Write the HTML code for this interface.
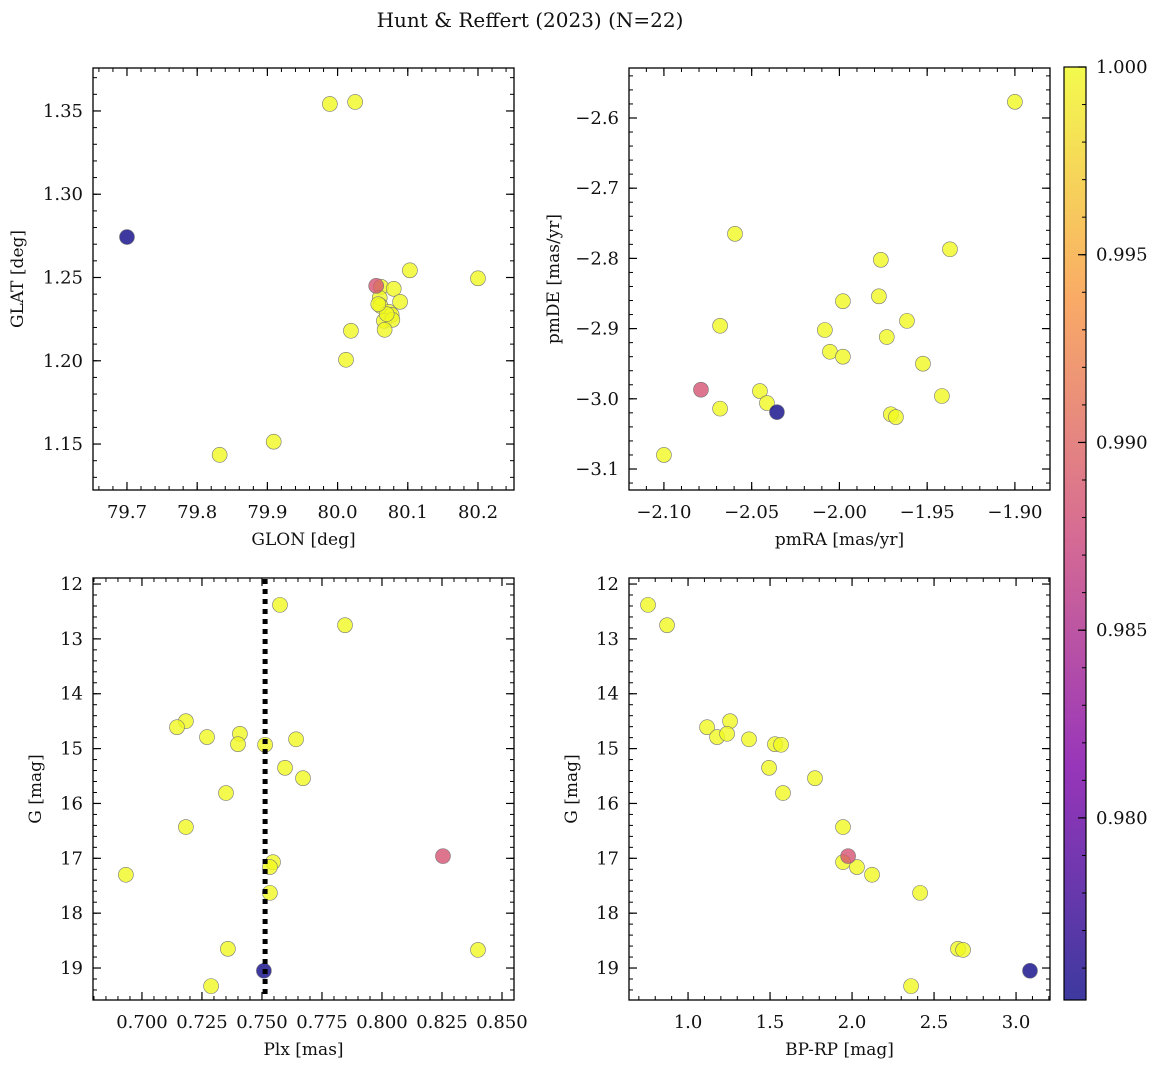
<!DOCTYPE html>
<html><head><meta charset="utf-8"><style>
html,body{margin:0;padding:0;background:#fff;}
svg text{font-family:"DejaVu Serif","Liberation Serif",serif;fill:#111;}
</style></head><body>
<svg id="fig" width="1161" height="1067" xmlns="http://www.w3.org/2000/svg">
<defs><linearGradient id="plasma" x1="0" y1="1" x2="0" y2="0">
<stop offset="0" stop-color="#0d0887"/><stop offset="0.25" stop-color="#7e03a8"/><stop offset="0.5" stop-color="#cc4778"/><stop offset="0.75" stop-color="#f89540"/><stop offset="1" stop-color="#f0f921"/></linearGradient></defs>
<text x="530" y="27" text-anchor="middle" font-size="20">Hunt &amp; Reffert (2023) (N=22)</text>
</svg>
<script>
// ---- data ----
const glon=[79.70,79.989,80.025,80.103,80.20,80.055,80.062,80.080,80.060,80.089,80.061,80.073,80.077,80.066,80.078,80.067,80.019,80.012,79.909,79.832,80.070,80.058];
const glat=[1.2743,1.3542,1.3554,1.2543,1.2495,1.2450,1.2444,1.2432,1.2378,1.2354,1.2330,1.2294,1.2276,1.2240,1.2246,1.2186,1.2180,1.2006,1.1514,1.1435,1.2280,1.2340];
const probTL=[0.9752,1,1,1,1,0.9885,1,1,1,1,1,1,1,1,1,1,1,1,1,1,1,1];
const pmra=[-1.900,-2.0595,-1.937,-1.9764,-1.9775,-1.998,-1.9615,-2.068,-2.0083,-1.973,-2.0054,-1.998,-1.9524,-1.9416,-2.0789,-2.0453,-2.0413,-2.068,-2.0356,-1.9707,-1.9678,-2.100];
const pmde=[-2.577,-2.765,-2.787,-2.802,-2.854,-2.861,-2.889,-2.896,-2.902,-2.912,-2.933,-2.940,-2.950,-2.996,-2.987,-2.989,-3.006,-3.014,-3.019,-3.022,-3.026,-3.080];
const probTR=[1,1,1,1,1,1,1,1,1,1,1,1,1,1,0.9885,1,1,1,0.9752,1,1,1];
const plx=[0.7575,0.7846,0.7183,0.7146,0.7271,0.7408,0.7400,0.7642,0.7513,0.7596,0.7671,0.7350,0.7183,0.8254,0.7546,0.7533,0.6933,0.7533,0.7358,0.8400,0.7508,0.7288];
const gmag=[12.38,12.75,14.50,14.61,14.79,14.73,14.92,14.83,14.93,15.35,15.54,15.81,16.43,16.96,17.07,17.16,17.30,17.63,18.65,18.67,19.05,19.33];
const bprp=[0.756,0.872,1.256,1.116,1.177,1.238,1.530,1.372,1.567,1.494,1.774,1.579,1.945,1.976,1.945,2.030,2.122,2.415,2.646,2.677,3.085,2.360];
const prob=[1,1,1,1,1,1,1,1,1,1,1,1,1,0.9885,1,1,1,1,1,1,0.9752,1];
const plxLine=[0.7513];
const cbTicks=[0.980,0.985,0.990,0.995,1.000];
const vmin=0.97515, vmax=1.0;

const NS="http://www.w3.org/2000/svg";
const svg=document.getElementById('fig');
function el(t,a,p){const e=document.createElementNS(NS,t);for(const k in a)e.setAttribute(k,a[k]);(p||svg).appendChild(e);return e;}
const stops=[[0,[13,8,135]],[0.25,[126,3,168]],[0.5,[204,71,120]],[0.75,[248,149,64]],[1,[240,249,33]]];
function cmap(v){let t=(v-vmin)/(vmax-vmin);t=Math.max(0,Math.min(1,t));
 for(let i=1;i<stops.length;i++){if(t<=stops[i][0]){const a=stops[i-1],b=stops[i],f=(t-a[0])/(b[0]-a[0]);
 const c=a[1].map((x,j)=>Math.round(x+(b[1][j]-x)*f));return `rgb(${c})`;}}return 'rgb(240,249,33)';}

function panel(name,box,xd,yd,xt,yt,xminor,yminor,xfmt,yfmt,xlabel,ylabel,xs,ys,ps,invY,ylOff){
 const [L,T,R,B]=box;
 const X=v=>L+(v-xd[0])/(xd[1]-xd[0])*(R-L);
 const Y=invY?(v=>T+(v-yd[0])/(yd[1]-yd[0])*(B-T)):(v=>B-(v-yd[0])/(yd[1]-yd[0])*(B-T));
 const g=el('g',{});
 
 
 for(let v=Math.ceil(xd[0]/xminor-1e-6)*xminor;v<=xd[1]+1e-9;v+=xminor){const x=X(v);
  el('line',{x1:x,x2:x,y1:B,y2:B-4,stroke:'#000','stroke-width':1},g);el('line',{x1:x,x2:x,y1:T,y2:T+4,stroke:'#000','stroke-width':1},g);}
 const y0=Math.min(...yd),y1=Math.max(...yd);
 for(let v=Math.ceil(y0/yminor-1e-6)*yminor;v<=y1+1e-9;v+=yminor){const y=Y(v);
  el('line',{x1:L,x2:L+4,y1:y,y2:y,stroke:'#000','stroke-width':1},g);el('line',{x1:R,x2:R-4,y1:y,y2:y,stroke:'#000','stroke-width':1},g);}
 xt.forEach(v=>{const x=X(v);
  el('line',{x1:x,x2:x,y1:B,y2:B-8,stroke:'#000','stroke-width':1.2},g);el('line',{x1:x,x2:x,y1:T,y2:T+8,stroke:'#000','stroke-width':1.2},g);
  const t=el('text',{x:x,y:B+28,'text-anchor':'middle','font-size':18},g);t.textContent=xfmt(v);
  
  });
 yt.forEach(v=>{const y=Y(v);
  el('line',{x1:L,x2:L+8,y1:y,y2:y,stroke:'#000','stroke-width':1.2},g);el('line',{x1:R,x2:R-8,y1:y,y2:y,stroke:'#000','stroke-width':1.2},g);
  const t=el('text',{x:L-10,y:y+6,'text-anchor':'end','font-size':18},g);t.textContent=yfmt(v);
  
  });
 const xl=el('text',{x:(L+R)/2,y:B+55,'text-anchor':'middle','font-size':17},g);xl.textContent=xlabel;
 
 
 const yl=el('text',{x:0,y:0,'text-anchor':'middle','font-size':17,transform:`translate(${L-ylOff},${(T+B)/2}) rotate(-90)`},g);yl.textContent=ylabel;
 
 
 const pts=el('g',{},g);
 const order=xs.map((_,i)=>i).sort((a,b)=>ps[b]-ps[a]);
 order.forEach(i=>{const c=el('circle',{cx:X(xs[i]),cy:Y(ys[i]),r:7.5,fill:cmap(ps[i]),'fill-opacity':0.8,stroke:'#777','stroke-width':0.6},pts);
  
  });
 el('rect',{x:L,y:T,width:R-L,height:B-T,fill:'none',stroke:'#000','stroke-width':1.3},g);
 return {X,Y,g,box};
}
const f1=v=>v.toFixed(1),f2=v=>v.toFixed(2),f3=v=>v.toFixed(3),f0=v=>v.toFixed(0),fm2=v=>(v<0?'\u2212':'')+Math.abs(v).toFixed(2),fm1=v=>(v<0?'\u2212':'')+Math.abs(v).toFixed(1);
panel('panel-glon-glat',[93,68,514,490],[79.6516,80.2513],[1.1224,1.3758],[79.7,79.8,79.9,80.0,80.1,80.2],[1.15,1.20,1.25,1.30,1.35],0.02,0.01,f1,f2,'GLON [deg]','GLAT [deg]',glon,glat,probTL,false,70);
panel('panel-pm',[629,68,1050,490],[-2.1199,-1.880],[-3.1299,-2.5288],[-2.10,-2.05,-2.00,-1.95,-1.90],[-3.1,-3.0,-2.9,-2.8,-2.7,-2.6],0.01,0.02,fm2,fm1,'pmRA [mas/yr]','pmDE [mas/yr]',pmra,pmde,probTR,false,70);
const bl=panel('panel-plx-g',[93,578,514,1000],[0.6796,0.855],[11.89,19.583],[0.700,0.725,0.750,0.775,0.800,0.825,0.850],[12,13,14,15,16,17,18,19],0.005,0.2,f3,f0,'Plx [mas]','G [mag]',plx,gmag,prob,true,52);
plxLine.forEach(v=>{const l=el('line',{x1:bl.X(v),x2:bl.X(v),y1:579,y2:999,stroke:'#000','stroke-width':5,'stroke-dasharray':'5,5'},bl.g);
 
 });
panel('panel-cmd',[629,578,1050,1000],[0.640,3.207],[11.89,19.583],[1.0,1.5,2.0,2.5,3.0],[12,13,14,15,16,17,18,19],0.1,0.2,f1,f0,'BP-RP [mag]','G [mag]',bprp,gmag,prob,true,52);

// colorbar
const cb=el('g',{});


const CT=67,CB=1000,CL=1064,CR=1086;
el('rect',{x:CL,y:CT,width:CR-CL,height:CB-CT,fill:'url(#plasma)','fill-opacity':0.8},cb);
el('rect',{x:CL,y:CT,width:CR-CL,height:CB-CT,fill:'none',stroke:'#000','stroke-width':1.2},cb);
const CY=v=>CB-(v-vmin)/(vmax-vmin)*(CB-CT);
for(let v=0.976;v<=1.0001;v+=0.001){el('line',{x1:CR,x2:CR-4,y1:CY(v),y2:CY(v),stroke:'#000','stroke-width':1},cb);}
cbTicks.forEach(v=>{el('line',{x1:CR,x2:CR-8,y1:CY(v),y2:CY(v),stroke:'#000','stroke-width':1.2},cb);
 const t=el('text',{x:CR+10,y:CY(v)+6,'font-size':18},cb);t.textContent=v.toFixed(3);
 
 });
</script>
</body></html>
